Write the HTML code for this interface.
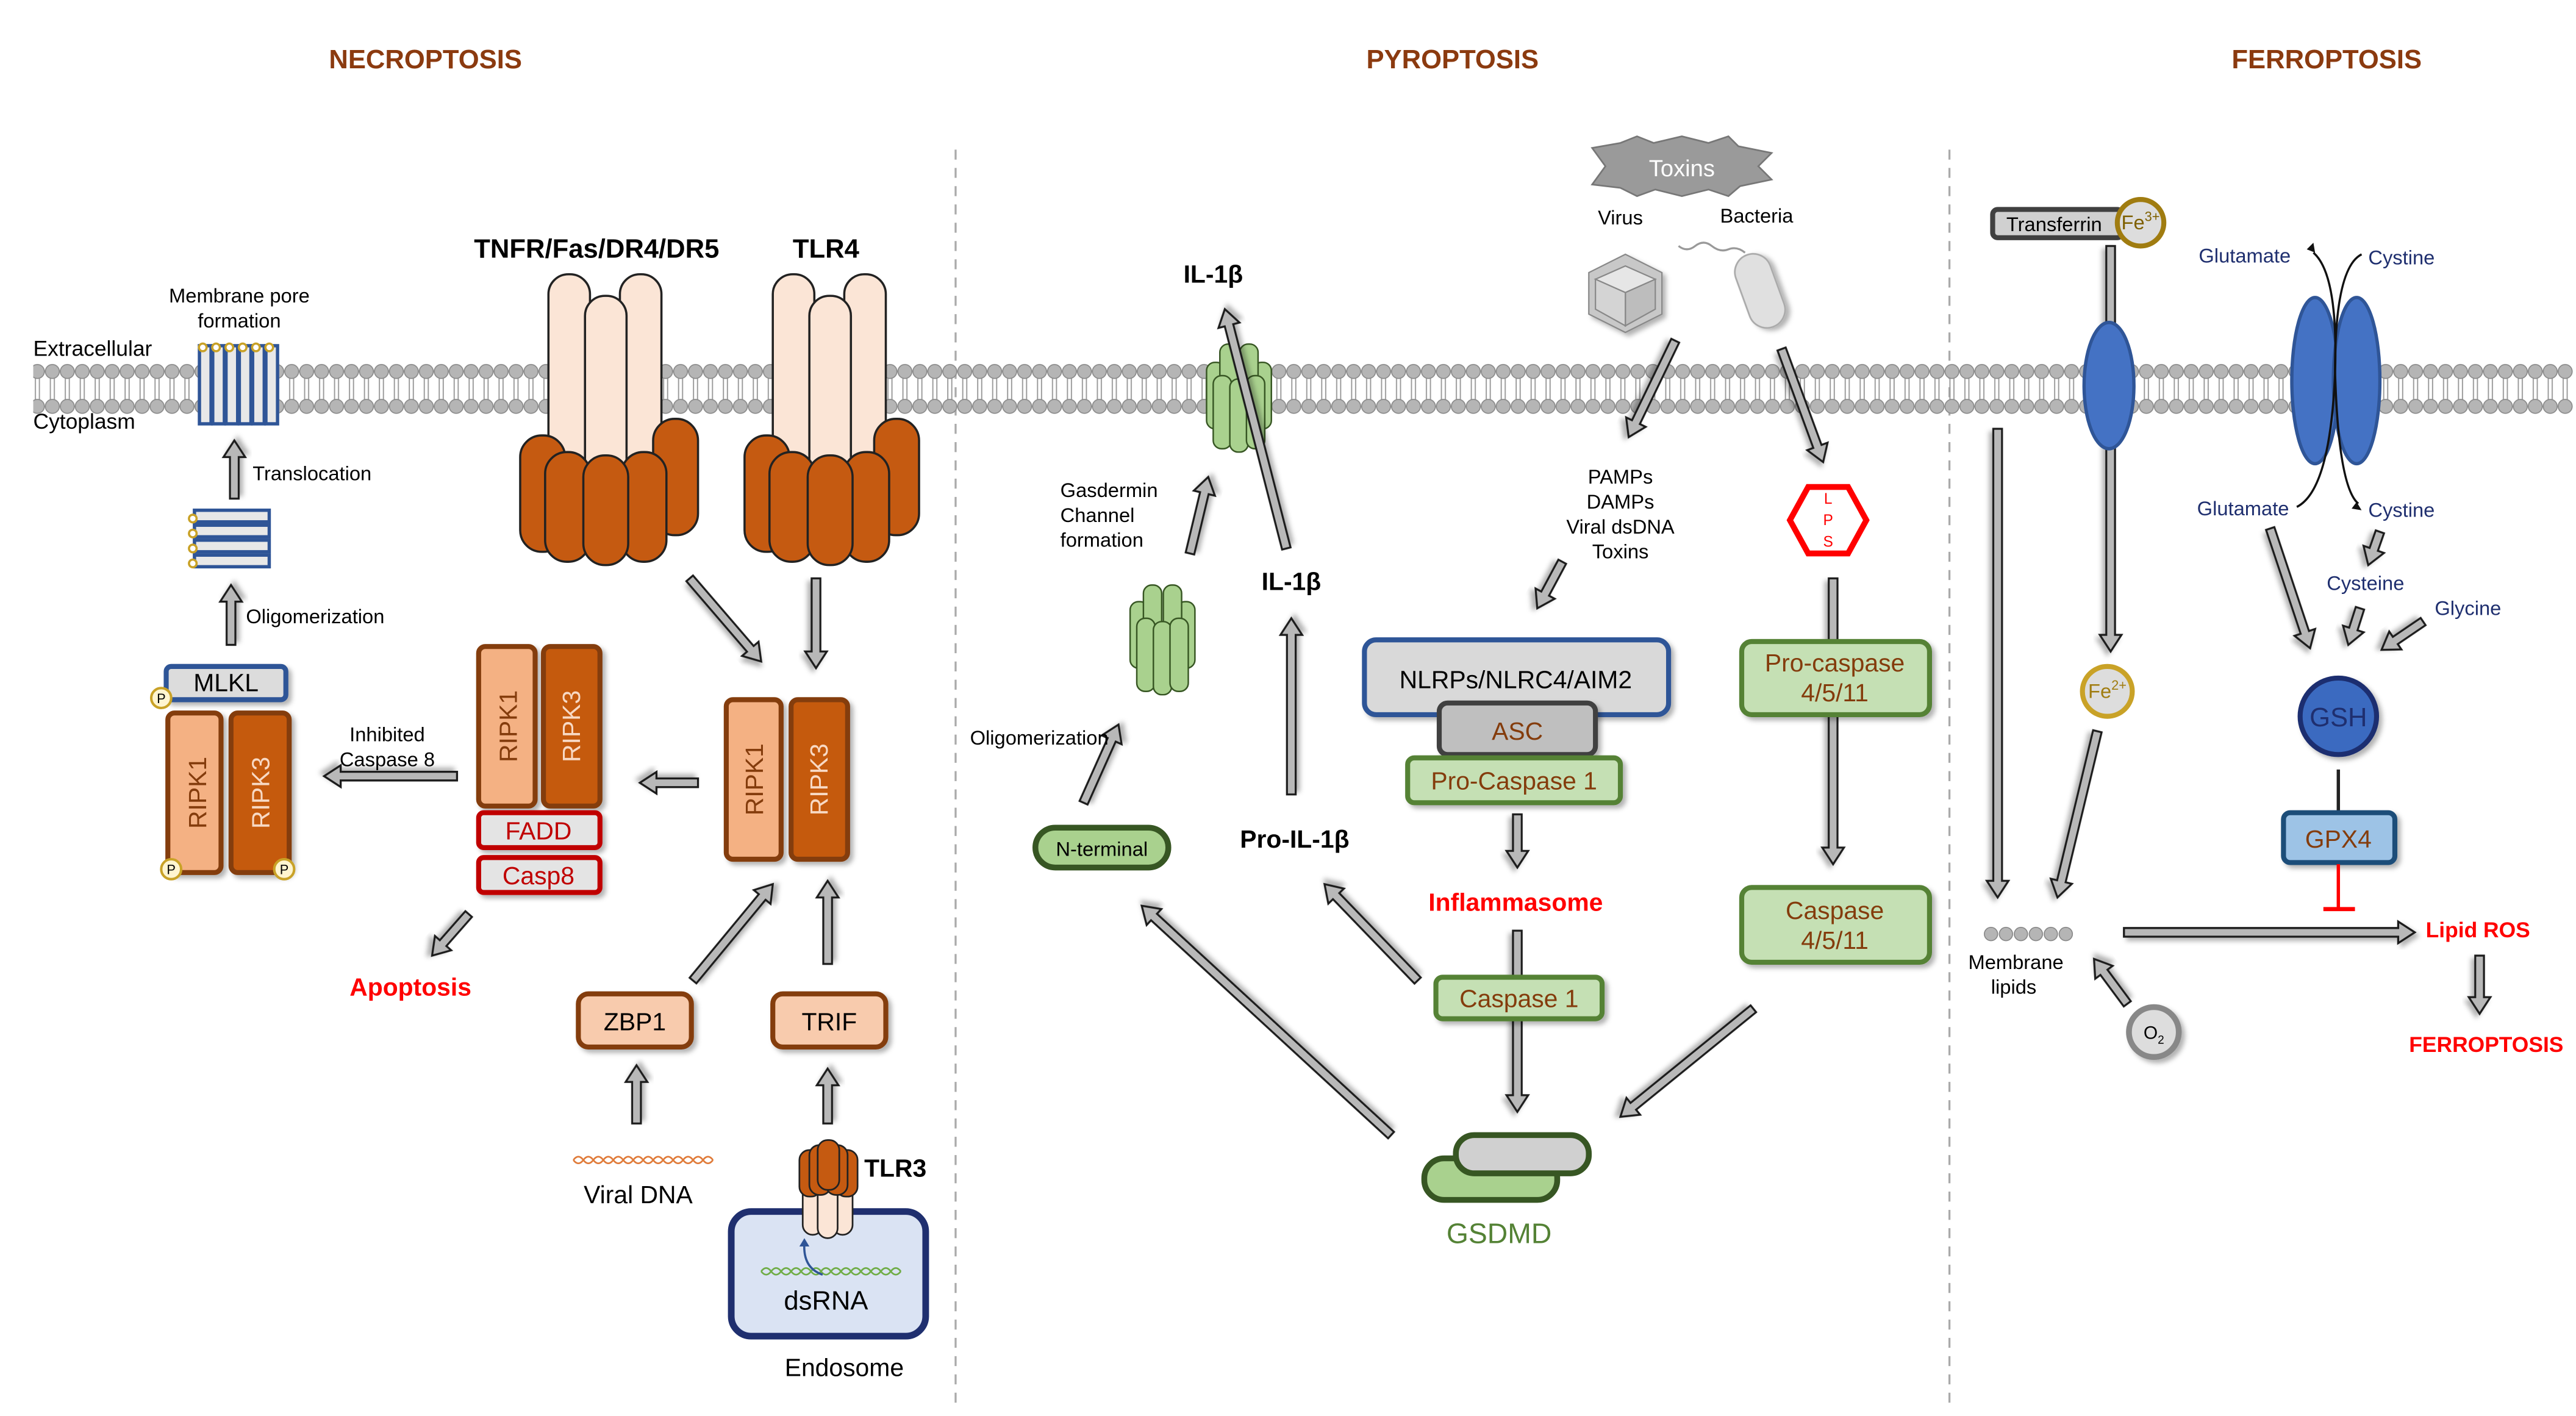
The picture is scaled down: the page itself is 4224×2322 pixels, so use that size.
<!DOCTYPE html>
<html><head><meta charset="utf-8">
<style>
html,body{margin:0;padding:0;background:#fff;}
svg{display:block;}
text{font-family:"Liberation Sans",Arial,sans-serif;}
</style></head>
<body>
<svg id="s" xmlns="http://www.w3.org/2000/svg" width="4224" height="2322" viewBox="0 0 1550 852">
<defs>
<pattern id="mem" x="0" y="219" width="9" height="30" patternUnits="userSpaceOnUse">
<line x1="3.3" y1="8" x2="3.3" y2="22" stroke="#999" stroke-width="0.7"/>
<line x1="5.7" y1="8" x2="5.7" y2="22" stroke="#999" stroke-width="0.7"/>
<circle cx="4.5" cy="4.5" r="4.2" fill="#b5b5b5" stroke="#888" stroke-width="0.6"/>
<circle cx="4.5" cy="25.5" r="4.2" fill="#b5b5b5" stroke="#888" stroke-width="0.6"/>
</pattern>
<filter id="sh" x="-20%" y="-20%" width="150%" height="150%"><feDropShadow dx="2" dy="2" stdDeviation="1.5" flood-color="#000" flood-opacity="0.3"/></filter>
</defs>

<!-- titles -->
<g font-weight="bold" font-size="16" fill="#8B3A0F" text-anchor="middle">
<text x="256" y="41">NECROPTOSIS</text>
<text x="874" y="41">PYROPTOSIS</text>
<text x="1400" y="41">FERROPTOSIS</text>
</g>
<!-- dividers -->
<line x1="575" y1="90" x2="575" y2="845" stroke="#aaa" stroke-width="1.2" stroke-dasharray="6,5"/>
<line x1="1173" y1="90" x2="1173" y2="845" stroke="#aaa" stroke-width="1.2" stroke-dasharray="6,5"/>

<!-- membrane -->
<rect x="20" y="219" width="1528" height="30" fill="url(#mem)"/>

<g id="arrows"></g>

<!-- ================= NECROPTOSIS ================= -->
<text x="20" y="214" font-size="13">Extracellular</text>
<text x="20" y="258" font-size="13">Cytoplasm</text>
<text x="144" y="182" font-size="12" text-anchor="middle">Membrane pore</text>
<text x="144" y="197" font-size="12" text-anchor="middle">formation</text>
<g fill="#e8e8e8" stroke="#2F5597" stroke-width="2">
<rect x="120" y="208" width="7" height="47"/><rect x="128" y="208" width="7" height="47"/><rect x="136" y="208" width="7" height="47"/><rect x="144" y="208" width="7" height="47"/><rect x="152" y="208" width="7" height="47"/><rect x="160" y="208" width="7" height="47"/>
</g>
<g fill="#fff" stroke="#C9A227" stroke-width="1.3">
<circle cx="122" cy="209" r="2.3"/><circle cx="130" cy="209" r="2.3"/><circle cx="138" cy="209" r="2.3"/><circle cx="146" cy="209" r="2.3"/><circle cx="154" cy="209" r="2.3"/><circle cx="162" cy="209" r="2.3"/>
</g>
<text x="152" y="289" font-size="12">Translocation</text>
<g fill="#e8e8e8" stroke="#2F5597" stroke-width="2">
<rect x="117" y="307" width="45" height="7"/><rect x="117" y="316" width="45" height="7"/><rect x="117" y="325" width="45" height="7"/><rect x="117" y="334" width="45" height="7"/>
</g>
<g fill="#fff" stroke="#C9A227" stroke-width="1.3">
<circle cx="116" cy="312" r="2.3"/><circle cx="116" cy="321" r="2.3"/><circle cx="116" cy="330" r="2.3"/><circle cx="116" cy="339" r="2.3"/>
</g>
<text x="148" y="375" font-size="12">Oligomerization</text>

<rect x="100" y="401" width="72" height="20" rx="3" fill="#dcdcdc" stroke="#2F5597" stroke-width="3" filter="url(#sh)"/>
<text x="136" y="416" font-size="15" text-anchor="middle">MLKL</text>
<rect x="101" y="429" width="32" height="96" rx="4" fill="#F4B183" stroke="#843C0C" stroke-width="3" filter="url(#sh)"/>
<rect x="139" y="429" width="35" height="96" rx="4" fill="#C55A11" stroke="#843C0C" stroke-width="3" filter="url(#sh)"/>
<text transform="translate(124,477) rotate(-90)" font-size="15" fill="#843C0C" text-anchor="middle">RIPK1</text>
<text transform="translate(162,477) rotate(-90)" font-size="15" fill="#F8D9C4" text-anchor="middle">RIPK3</text>
<g font-size="8" text-anchor="middle">
<circle cx="97" cy="420" r="6" fill="#fff5d0" stroke="#C9A227" stroke-width="1.5"/><text x="97" y="423">P</text>
<circle cx="103" cy="523" r="6" fill="#fff5d0" stroke="#C9A227" stroke-width="1.5"/><text x="103" y="526">P</text>
<circle cx="171" cy="523" r="6" fill="#fff5d0" stroke="#C9A227" stroke-width="1.5"/><text x="171" y="526">P</text>
</g>
<text x="233" y="446" font-size="12" text-anchor="middle">Inhibited</text>
<text x="233" y="461" font-size="12" text-anchor="middle">Caspase 8</text>

<rect x="288" y="389" width="34" height="96" rx="4" fill="#F4B183" stroke="#843C0C" stroke-width="3" filter="url(#sh)"/>
<rect x="327" y="389" width="34" height="96" rx="4" fill="#C55A11" stroke="#843C0C" stroke-width="3" filter="url(#sh)"/>
<text transform="translate(311,437) rotate(-90)" font-size="15" fill="#843C0C" text-anchor="middle">RIPK1</text>
<text transform="translate(349,437) rotate(-90)" font-size="15" fill="#F8D9C4" text-anchor="middle">RIPK3</text>
<rect x="288" y="489" width="73" height="21" rx="3" fill="#e4e4e4" stroke="#C00000" stroke-width="3" filter="url(#sh)"/>
<text x="324" y="505" font-size="15" fill="#C00000" text-anchor="middle">FADD</text>
<rect x="288" y="516" width="73" height="21" rx="3" fill="#e4e4e4" stroke="#C00000" stroke-width="3" filter="url(#sh)"/>
<text x="324" y="532" font-size="15" fill="#C00000" text-anchor="middle">Casp8</text>
<text x="247" y="599" font-size="15" font-weight="bold" fill="#FF0000" text-anchor="middle">Apoptosis</text>

<!-- receptors TNFR -->
<g stroke="#222" stroke-width="1.3">
<rect x="330" y="165" width="25" height="135" rx="12" fill="#FBE5D6"/>
<rect x="373" y="165" width="25" height="135" rx="12" fill="#FBE5D6"/>
<rect x="352" y="178" width="25" height="125" rx="12" fill="#FBE5D6"/>
<rect x="313" y="262" width="27" height="70" rx="13" fill="#C55A11"/>
<rect x="393" y="252" width="27" height="70" rx="13" fill="#C55A11"/>
<rect x="328" y="272" width="27" height="66" rx="13" fill="#C55A11"/>
<rect x="374" y="272" width="27" height="66" rx="13" fill="#C55A11"/>
<rect x="351" y="274" width="27" height="66" rx="13" fill="#C55A11"/>
</g>
<!-- TLR4 -->
<g stroke="#222" stroke-width="1.3">
<rect x="465" y="165" width="25" height="135" rx="12" fill="#FBE5D6"/>
<rect x="508" y="165" width="25" height="135" rx="12" fill="#FBE5D6"/>
<rect x="487" y="178" width="25" height="125" rx="12" fill="#FBE5D6"/>
<rect x="448" y="262" width="27" height="70" rx="13" fill="#C55A11"/>
<rect x="526" y="252" width="27" height="70" rx="13" fill="#C55A11"/>
<rect x="463" y="272" width="27" height="66" rx="13" fill="#C55A11"/>
<rect x="508" y="272" width="27" height="66" rx="13" fill="#C55A11"/>
<rect x="486" y="274" width="27" height="66" rx="13" fill="#C55A11"/>
</g>
<text x="359" y="155" font-size="16" font-weight="bold" text-anchor="middle">TNFR/Fas/DR4/DR5</text>
<text x="497" y="155" font-size="16" font-weight="bold" text-anchor="middle">TLR4</text>

<rect x="437" y="421" width="33" height="96" rx="4" fill="#F4B183" stroke="#843C0C" stroke-width="3" filter="url(#sh)"/>
<rect x="476" y="421" width="34" height="96" rx="4" fill="#C55A11" stroke="#843C0C" stroke-width="3" filter="url(#sh)"/>
<text transform="translate(459,469) rotate(-90)" font-size="15" fill="#843C0C" text-anchor="middle">RIPK1</text>
<text transform="translate(498,469) rotate(-90)" font-size="15" fill="#F8D9C4" text-anchor="middle">RIPK3</text>

<rect x="348" y="598" width="68" height="32" rx="6" fill="#F8CBAD" stroke="#843C0C" stroke-width="3" filter="url(#sh)"/>
<text x="382" y="620" font-size="15" text-anchor="middle">ZBP1</text>
<rect x="465" y="598" width="68" height="32" rx="6" fill="#F8CBAD" stroke="#843C0C" stroke-width="3" filter="url(#sh)"/>
<text x="499" y="620" font-size="15" text-anchor="middle">TRIF</text>

<path d="M345 698 q3 -4 6 0 t6 0 t6 0 t6 0 t6 0 t6 0 t6 0 t6 0 t6 0 t6 0 t6 0 t6 0 t6 0 t6 0" fill="none" stroke="#E07B39" stroke-width="1"/>
<path d="M345 698 q3 4 6 0 t6 0 t6 0 t6 0 t6 0 t6 0 t6 0 t6 0 t6 0 t6 0 t6 0 t6 0 t6 0 t6 0" fill="none" stroke="#E07B39" stroke-width="1"/>
<text x="384" y="724" font-size="15" text-anchor="middle">Viral DNA</text>

<rect x="440" y="729" width="117" height="75" rx="12" fill="#DAE3F3" stroke="#1F2F6F" stroke-width="4"/>
<path d="M458 765 q3 -4 6 0 t6 0 t6 0 t6 0 t6 0 t6 0 t6 0 t6 0 t6 0 t6 0 t6 0 t6 0 t6 0 t6 0" fill="none" stroke="#70AD47" stroke-width="1"/>
<path d="M458 765 q3 4 6 0 t6 0 t6 0 t6 0 t6 0 t6 0 t6 0 t6 0 t6 0 t6 0 t6 0 t6 0 t6 0 t6 0" fill="none" stroke="#70AD47" stroke-width="1"/>
<path d="M495 767 q-12 -4 -11 -19" fill="none" stroke="#2F5597" stroke-width="1.3"/>
<path d="M481 750 l3 -5 l3 5z" fill="#2F5597"/>
<text x="497" y="788" font-size="16" text-anchor="middle">dsRNA</text>
<text x="508" y="828" font-size="15" text-anchor="middle">Endosome</text>
<!-- TLR3 -->
<g stroke="#222" stroke-width="1">
<rect x="483" y="705" width="12" height="38" rx="6" fill="#FBE5D6"/>
<rect x="501" y="705" width="12" height="38" rx="6" fill="#FBE5D6"/>
<rect x="492" y="705" width="12" height="40" rx="6" fill="#FBE5D6"/>
<rect x="481" y="692" width="13" height="28" rx="6" fill="#C55A11"/>
<rect x="503" y="692" width="13" height="28" rx="6" fill="#C55A11"/>
<rect x="487" y="689" width="13" height="30" rx="6" fill="#C55A11"/>
<rect x="497" y="689" width="13" height="30" rx="6" fill="#C55A11"/>
<rect x="492" y="686" width="13" height="30" rx="6" fill="#C55A11"/>
</g>
<text x="520" y="708" font-size="15" font-weight="bold">TLR3</text>

<!-- ================= PYROPTOSIS ================= -->
<polygon points="958,89 975,86 985,82 995,86 1012,82 1028,86 1040,82 1046,88 1066,92 1058,100 1066,108 1047,112 1040,118 1028,114 1012,118 996,114 985,118 975,113 958,111 966,100" fill="#9a9a9a" stroke="#777"/>
<text x="1012" y="106" font-size="14" fill="#fff" text-anchor="middle">Toxins</text>
<text x="975" y="135" font-size="12" text-anchor="middle">Virus</text>
<text x="1057" y="134" font-size="12" text-anchor="middle">Bacteria</text>
<g stroke="#888" stroke-width="0.8" filter="url(#sh)">
<polygon points="978,153 1000,164 1000,189 978,200 956,189 956,164" fill="#c8c8c8"/>
<polygon points="978,160 996,168 978,176 960,168" fill="#e6e6e6"/>
<polygon points="978,176 996,168 996,186 978,196" fill="#bdbdbd"/>
<polygon points="978,176 960,168 960,186 978,196" fill="#d4d4d4"/>
</g>
<path d="M1010 148 q5 4 10 0 t10 0 t10 2 t10 2" fill="none" stroke="#999" stroke-width="1.2"/>
<rect x="1048" y="152" width="22" height="46" rx="11" fill="#e0e0e0" stroke="#aaa" transform="rotate(-20 1059 175)" filter="url(#sh)"/>

<text x="975" y="291" font-size="12" text-anchor="middle">PAMPs</text>
<text x="975" y="306" font-size="12" text-anchor="middle">DAMPs</text>
<text x="975" y="321" font-size="12" text-anchor="middle">Viral dsDNA</text>
<text x="975" y="336" font-size="12" text-anchor="middle">Toxins</text>

<polygon points="1088,293 1112,293 1123,313 1112,333 1088,333 1077,313" fill="#fff" stroke="#FF0000" stroke-width="3.5"/>
<text x="1100" y="303" font-size="9" fill="#FF0000" text-anchor="middle">L</text>
<text x="1100" y="316" font-size="9" fill="#FF0000" text-anchor="middle">P</text>
<text x="1100" y="329" font-size="9" fill="#FF0000" text-anchor="middle">S</text>

<rect x="821" y="385" width="183" height="45" rx="7" fill="#d9d9d9" stroke="#2F5597" stroke-width="3" filter="url(#sh)"/>
<text x="912" y="414" font-size="15" text-anchor="middle">NLRPs/NLRC4/AIM2</text>
<rect x="866" y="423" width="94" height="31" rx="5" fill="#bfbfbf" stroke="#404040" stroke-width="3" filter="url(#sh)"/>
<text x="913" y="445" font-size="15" fill="#843C0C" text-anchor="middle">ASC</text>
<rect x="847" y="456" width="128" height="27" rx="4" fill="#C5E0B4" stroke="#548235" stroke-width="3" filter="url(#sh)"/>
<text x="911" y="475" font-size="15" fill="#843C0C" text-anchor="middle">Pro-Caspase 1</text>
<text x="912" y="548" font-size="15" font-weight="bold" fill="#FF0000" text-anchor="middle">Inflammasome</text>
<rect x="864" y="588" width="100" height="25" rx="4" fill="#C5E0B4" stroke="#548235" stroke-width="3" filter="url(#sh)"/>
<text x="914" y="606" font-size="15" fill="#843C0C" text-anchor="middle">Caspase 1</text>

<rect x="1048" y="386" width="113" height="44" rx="6" fill="#C5E0B4" stroke="#548235" stroke-width="3" filter="url(#sh)"/>
<text x="1104" y="404" font-size="15" fill="#843C0C" text-anchor="middle">Pro-caspase</text>
<text x="1104" y="422" font-size="15" fill="#843C0C" text-anchor="middle">4/5/11</text>
<rect x="1048" y="534" width="113" height="45" rx="6" fill="#C5E0B4" stroke="#548235" stroke-width="3" filter="url(#sh)"/>
<text x="1104" y="553" font-size="15" fill="#843C0C" text-anchor="middle">Caspase</text>
<text x="1104" y="571" font-size="15" fill="#843C0C" text-anchor="middle">4/5/11</text>

<rect x="857" y="697" width="80" height="25" rx="12" fill="#A9D18E" stroke="#375623" stroke-width="3.5"/>
<rect x="876" y="683" width="80" height="23" rx="11" fill="#d0d0d0" stroke="#375623" stroke-width="3.5"/>
<text x="902" y="748" font-size="17" fill="#548235" text-anchor="middle">GSDMD</text>

<rect x="623" y="498" width="80" height="24" rx="12" fill="#A9D18E" stroke="#375623" stroke-width="3.5"/>
<text x="663" y="515" font-size="12" text-anchor="middle">N-terminal</text>
<text x="667" y="448" font-size="12" text-anchor="end">Oligomerization</text>
<text x="638" y="299" font-size="12">Gasdermin</text>
<text x="638" y="314" font-size="12">Channel</text>
<text x="638" y="329" font-size="12">formation</text>
<text x="730" y="170" font-size="15" font-weight="bold" text-anchor="middle">IL-1β</text>
<text x="777" y="355" font-size="15" font-weight="bold" text-anchor="middle">IL-1β</text>
<text x="779" y="510" font-size="15" font-weight="bold" text-anchor="middle">Pro-IL-1β</text>

<!-- channels -->
<g stroke="#375623" stroke-width="0.9" fill="#A9D18E">
<rect x="680" y="362" width="11" height="40" rx="5"/>
<rect x="708" y="362" width="11" height="40" rx="5"/>
<rect x="688" y="352" width="11" height="40" rx="5"/>
<rect x="700" y="352" width="11" height="40" rx="5"/>
<rect x="684" y="372" width="11" height="44" rx="5"/>
<rect x="694" y="374" width="11" height="44" rx="5"/>
<rect x="704" y="372" width="11" height="44" rx="5"/>
</g>
<g stroke="#375623" stroke-width="0.9" fill="#A9D18E">
<rect x="726" y="218" width="11" height="40" rx="5"/>
<rect x="754" y="218" width="11" height="40" rx="5"/>
<rect x="734" y="207" width="11" height="40" rx="5"/>
<rect x="746" y="207" width="11" height="40" rx="5"/>
<rect x="730" y="226" width="11" height="44" rx="5"/>
<rect x="740" y="228" width="11" height="44" rx="5"/>
<rect x="750" y="226" width="11" height="44" rx="5"/>
</g>
<!-- IL-1b arrow through channel (on top) -->
<g id="arrows2"></g>

<!-- ================= FERROPTOSIS ================= -->
<rect x="1199" y="126" width="78" height="17" rx="3" fill="#d0d0d0" stroke="#404040" stroke-width="3"/>
<text x="1236" y="139" font-size="12" text-anchor="middle">Transferrin</text>
<circle cx="1288" cy="134" r="14" fill="#ddd" stroke="#A07C10" stroke-width="3"/>
<text x="1288" y="138" font-size="12" fill="#7F6000" text-anchor="middle">Fe<tspan font-size="8" dy="-5">3+</tspan></text>
<circle cx="1268" cy="416" r="15" fill="#ddd" stroke="#C9A227" stroke-width="3"/>
<text x="1268" y="420" font-size="12" fill="#A07C10" text-anchor="middle">Fe<tspan font-size="8" dy="-5">2+</tspan></text>
<text x="1213" y="583" font-size="12" text-anchor="middle">Membrane</text>
<text x="1198" y="598" font-size="12">lipids</text>
<g fill="#b5b5b5" stroke="#888" stroke-width="0.6">
<circle cx="1198" cy="562" r="4"/><circle cx="1207" cy="562" r="4"/><circle cx="1216" cy="562" r="4"/><circle cx="1225" cy="562" r="4"/><circle cx="1234" cy="562" r="4"/><circle cx="1243" cy="562" r="4"/>
</g>
<circle cx="1296" cy="621" r="15" fill="#ddd" stroke="#888" stroke-width="3.5" filter="url(#sh)"/>
<text x="1296" y="625" font-size="11" text-anchor="middle">O<tspan font-size="7" dy="3">2</tspan></text>
<text x="1491" y="564" font-size="13" font-weight="bold" fill="#FF0000" text-anchor="middle">Lipid ROS</text>
<text x="1496" y="633" font-size="13" font-weight="bold" fill="#FF0000" text-anchor="middle">FERROPTOSIS</text>

<g font-size="12" fill="#1F2F6F">
<text x="1323" y="158">Glutamate</text>
<text x="1425" y="159">Cystine</text>
<text x="1322" y="310">Glutamate</text>
<text x="1425" y="311">Cystine</text>
<text x="1400" y="355">Cysteine</text>
<text x="1465" y="370">Glycine</text>
</g>
<ellipse cx="1393" cy="229" rx="14" ry="50" fill="#4472C4" stroke="#2F5597" stroke-width="2"/>
<ellipse cx="1418" cy="229" rx="14" ry="50" fill="#4472C4" stroke="#2F5597" stroke-width="2"/>
<path d="M1382 305 q20 -10 23 -80 q2 -60 -13 -73" fill="none" stroke="#111" stroke-width="1.3"/>
<path d="M1388 150 l4 -4 l1 6z" fill="#111"/>
<path d="M1421 153 q-16 8 -16 70 q2 70 14 80" fill="none" stroke="#111" stroke-width="1.3"/>
<path d="M1421 307 l-6 -1 l3 -4z" fill="#111"/>
<ellipse cx="1269" cy="232" rx="15" ry="38" fill="#4472C4" stroke="#2F5597" stroke-width="2"/>
<circle cx="1407" cy="431" r="23" fill="#3A6BC0" stroke="#1F2F6F" stroke-width="3" filter="url(#sh)"/>
<text x="1407" y="437" font-size="16" fill="#1F2F6F" text-anchor="middle">GSH</text>
<line x1="1407" y1="463" x2="1407" y2="489" stroke="#222" stroke-width="2"/>
<rect x="1374" y="489" width="67" height="30" rx="4" fill="#9DC3E6" stroke="#1F4E79" stroke-width="3" filter="url(#sh)"/>
<text x="1407" y="510" font-size="15" fill="#843C0C" text-anchor="middle">GPX4</text>
<line x1="1407" y1="520" x2="1407" y2="547" stroke="#FF0000" stroke-width="2"/>
<line x1="1398" y1="547" x2="1417" y2="547" stroke="#FF0000" stroke-width="2.5"/>

<script>
(function(){
var A=[
// necroptosis
[141,300,141,265],[139,388,139,352],[275,467,195,467],[420,471,385,471],[282,550,260,575],
[415,348,458,398],[491,348,491,402],[417,590,465,532],[498,580,498,530],[383,676,383,641],[498,676,498,643],
// pyroptosis
[1008,205,980,263],[1072,210,1097,278],[940,338,925,366],[1103,348,1103,520],[913,490,913,522],[913,560,913,669],
[1055,607,975,672],[837,683,687,545],[853,590,797,532],[652,483,673,436],[716,333,727,287],[777,478,777,372],
// ferroptosis
[1270,148,1270,392],[1202,258,1202,540],[1262,440,1238,540],[1280,604,1260,577],[1278,561,1453,561],[1492,575,1492,610],
[1366,318,1390,390],[1432,320,1425,340],[1420,366,1413,388],[1458,374,1433,391]
];
var B=[[774,330,737,186]];
var ns='http://www.w3.org/2000/svg';
function draw(list,g){
list.forEach(function(a){
var dx=a[2]-a[0],dy=a[3]-a[1],L=Math.sqrt(dx*dx+dy*dy),ang=Math.atan2(dy,dx)*180/Math.PI;
var w=2.6,hw=6.5,hl=10,s=L-hl;
var p=document.createElementNS(ns,'polygon');
var pts='0,'+(-w)+' '+s+','+(-w)+' '+s+','+(-hw)+' '+L+',0 '+s+','+hw+' '+s+','+w+' 0,'+w;
p.setAttribute('points',pts);
p.setAttribute('fill','#b8b8b8');p.setAttribute('stroke','#1a1a1a');p.setAttribute('stroke-width','1.2');
p.setAttribute('transform','translate('+a[0]+','+a[1]+') rotate('+ang+')');
p.setAttribute('filter','url(#sh)');
g.appendChild(p);
});}
draw(A,document.getElementById('arrows'));
draw(B,document.getElementById('arrows2'));
})();
</script>
</svg>
</body></html>
